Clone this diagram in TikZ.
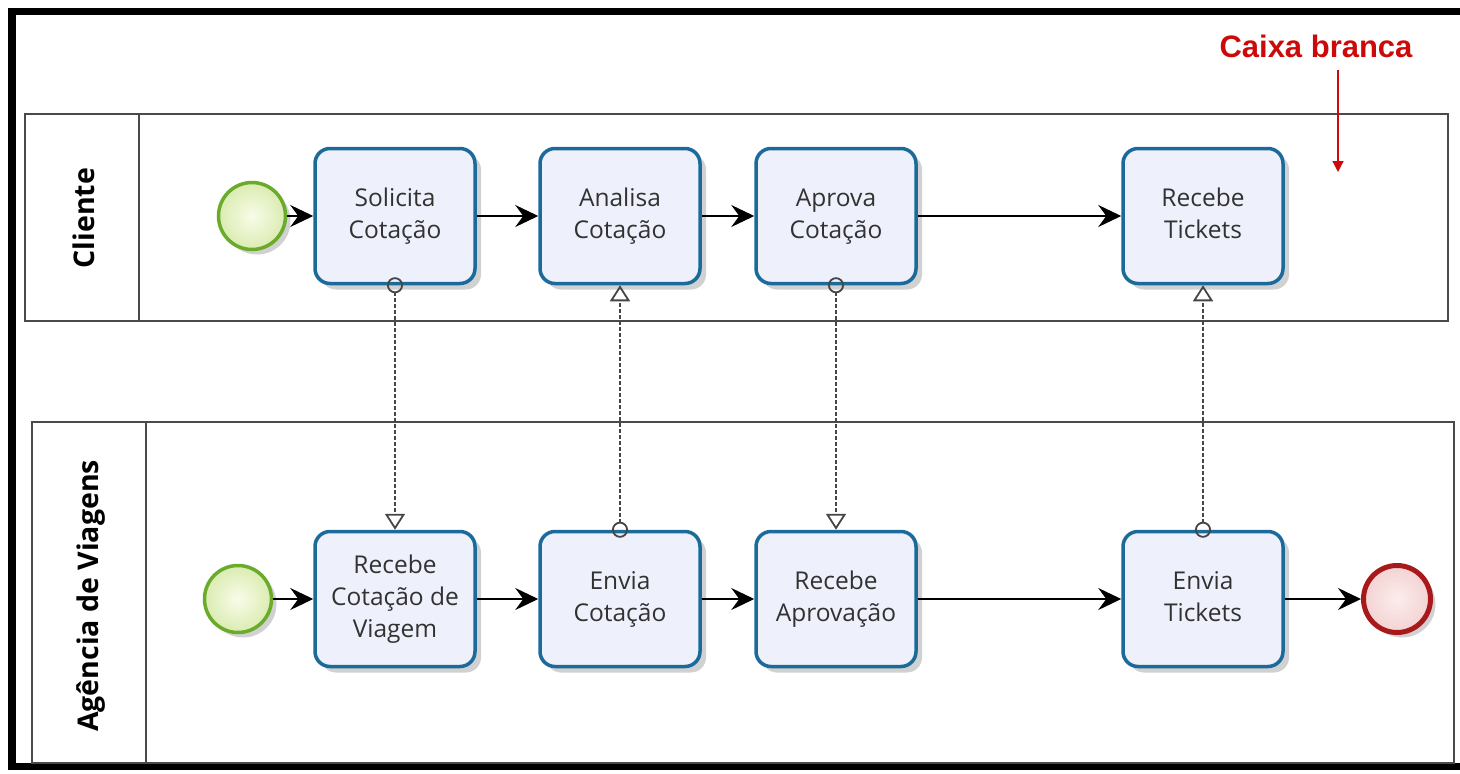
\documentclass[tikz,border=0pt]{standalone}
\usepackage{fontspec}
\setmainfont{Open Sans}
\newfontfamily\arialfont{Liberation Sans}
\usetikzlibrary{arrows.meta,shadows}
\definecolor{taskblue}{RGB}{27,106,154}
\definecolor{taskfill}{RGB}{238,241,251}
\definecolor{textgray}{RGB}{50,50,50}
\definecolor{greenb}{RGB}{106,171,43}
\definecolor{greenfill}{RGB}{238,247,200}
\definecolor{redb}{RGB}{168,25,27}
\definecolor{redfill}{RGB}{244,210,210}
\definecolor{poolgray}{RGB}{74,74,74}
\definecolor{msggray}{RGB}{70,70,70}
\definecolor{cbred}{RGB}{204,10,10}
\tikzset{
  task/.style={rectangle, rounded corners=15pt, draw=taskblue, line width=3.5pt,
    fill=taskfill, minimum width=160pt, minimum height=135pt, inner sep=0pt,
    align=center, font=\fontsize{24.5}{32}\selectfont, text=textgray,
    drop shadow={shadow xshift=6pt, shadow yshift=-6pt, opacity=0.18, fill=black}},
  startev/.style={circle, draw=greenb, line width=3.5pt, inner color=white!60!greenfill,
    outer color=greenfill!85!greenb, minimum size=67pt, inner sep=0pt,
    drop shadow={shadow xshift=5pt, shadow yshift=-5pt, opacity=0.18, fill=black}},
  endev/.style={circle, draw=redb, line width=5pt, inner color=redfill!40!white,
    outer color=redfill, minimum size=67pt, inner sep=0pt,
    drop shadow={shadow xshift=5pt, shadow yshift=-5pt, opacity=0.18, fill=black}},
  pool/.style={draw=poolgray, line width=2pt},
  lanelabel/.style={font=\fontsize{28.5}{30}\selectfont\bfseries, text=black, rotate=90},
  seq/.style={draw=black, line width=2pt, -{Stealth[length=23pt,width=22pt,inset=8pt]}},
  msg/.style={draw=msggray, line width=2pt, dash pattern=on 4pt off 2pt,
    {Circle[open,length=16pt,width=16pt,line width=1.8pt]}-{Triangle[open,length=16pt,width=20pt,line width=1.8pt]},
    shorten <=-8pt}
}
\begin{document}
\begin{tikzpicture}[x=1pt,y=-1pt]
\useasboundingbox (0,0) rectangle (1460,774);
\fill[white] (0,0) rectangle (1460,774);
% outer frame (right side cut off)
\draw[line width=7.5pt, line join=miter] (1475,11.5) -- (12,11.5) -- (12,766.5) -- (1475,766.5);

% pools
\draw[pool] (25,114) rectangle (1448,321);
\draw[pool] (139,114) -- (139,321);
\draw[pool] (32,422) rectangle (1454,763);
\draw[pool] (146,422) -- (146,763);
\node[lanelabel] (lc) at (84,218) {Cliente};
\node[lanelabel] (la) at (91,596) {Agência de Viagens};

% Cliente lane
\node[startev] (s1) at (252,216) {};
\node[task] (t1) at (395,216) {\strut Solicita\\Cotação\strut};
\node[task] (t2) at (620,216) {\strut Analisa\\Cotação\strut};
\node[task] (t3) at (836,216) {\strut Aprova\\Cotação\strut};
\node[task] (t4) at (1203,216) {\strut Recebe\\Tickets\strut};

% Agencia lane
\node[startev] (s2) at (238,599) {};
\node[task] (b1) at (395,599) {\strut Recebe\\Cotação de\\Viagem\strut};
\node[task] (b2) at (620,599) {\strut Envia\\Cotação\strut};
\node[task] (b3) at (836,599) {\strut Recebe\\Aprovação\strut};
\node[task] (b4) at (1203,599) {\strut Envia\\Tickets\strut};
\node[endev] (e2) at (1397,599) {};

% sequence flows
\draw[seq] (s1) -- (t1);
\draw[seq] (t1) -- (t2);
\draw[seq] (t2) -- (t3);
\draw[seq] (t3) -- (t4);
\draw[seq] (s2) -- (b1);
\draw[seq] (b1) -- (b2);
\draw[seq] (b2) -- (b3);
\draw[seq] (b3) -- (b4);
\draw[seq] (b4) -- (e2);

% message flows
\draw[msg] (t1.south) -- (b1.north);
\draw[msg] (b2.north) -- (t2.south);
\draw[msg] (t3.south) -- (b3.north);
\draw[msg] (b4.north) -- (t4.south);

% annotation
\node[font=\arialfont\fontsize{31}{33}\selectfont\bfseries, text=cbred] (cb) at (1316,46) {Caixa branca};
\coordinate (cbA) at (1338,70);
\coordinate (cbB) at (1338,172);
\draw[cbred, line width=1.3pt, -{Triangle[length=11pt,width=11pt]}] (cbA) -- (cbB);
\end{tikzpicture}
\end{document}
